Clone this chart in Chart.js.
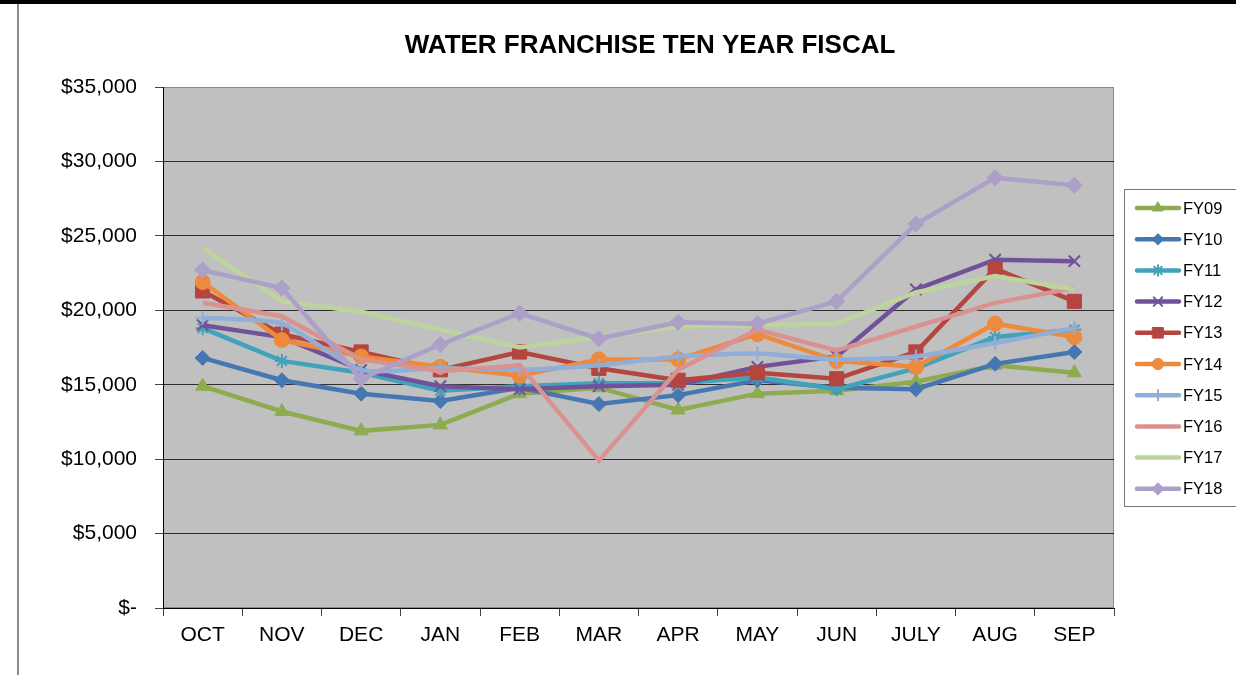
<!DOCTYPE html>
<html>
<head>
<meta charset="utf-8">
<title>Water Franchise Ten Year Fiscal</title>
<script src="https://cdn.jsdelivr.net/npm/chart.js@4.4.1/dist/chart.umd.min.js"></script>
<style>
    html, body { margin: 0; padding: 0; background: #fff; }
    #wrap { position: relative; width: 1236px; height: 675px; overflow: hidden; }
    #waterChart { position: absolute; left: 0; top: 0; }
    #topbar { position: absolute; left: 0; top: 0; width: 1236px; height: 4px; background: #000; }
    #leftline { position: absolute; left: 17px; top: 4px; width: 2px; height: 671px; background: #8a8a8a; }
</style>
</head>
<body>
<div id="wrap">
    <canvas id="waterChart" width="1236" height="675"></canvas>
    <div id="topbar"></div>
    <div id="leftline"></div>
</div>
<script>
// fiscal months, Oct -> Sep
const months = ['OCT', 'NOV', 'DEC', 'JAN', 'FEB', 'MAR', 'APR', 'MAY', 'JUN', 'JULY', 'AUG', 'SEP'];
const yTicks = [0, 5000, 10000, 15000, 20000, 25000, 30000, 35000];

const fy09 = [14900, 13200, 11900, 12300, 14400, 14800, 13300, 14400, 14600, 15200, 16300, 15800];
const fy10 = [16800, 15300, 14400, 13900, 14800, 13700, 14300, 15300, 14800, 14700, 16400, 17200];
const fy11 = [18800, 16600, 15800, 14600, 14900, 15100, 15100, 15500, 14700, 16100, 18200, 18700];
const fy12 = [19000, 18200, 16000, 14900, 14700, 14900, 15000, 16200, 16900, 21400, 23400, 23300];
const fy13 = [21300, 18400, 17200, 16000, 17200, 16100, 15300, 15800, 15400, 17200, 22800, 20600];
const fy14 = [21900, 18000, 16900, 16200, 15600, 16700, 16700, 18400, 16600, 16200, 19100, 18200];
const fy15 = [19500, 19100, 16000, 16100, 16000, 16300, 16900, 17100, 16700, 16900, 17800, 18800];
const fy16 = [20500, 19600, 16700, 15900, 16300, 9900, 16000, 18700, 17300, 18900, 20500, 21500];
const fy17 = [24200, 20600, 19900, 18700, 17500, 18200, 18900, 19000, 19100, 21200, 22300, 21400];
const fy18 = [22700, 21500, 15400, 17700, 19800, 18100, 19200, 19100, 20600, 25800, 28900, 28400];

const seriesNames = ['FY09', 'FY10', 'FY11', 'FY12', 'FY13', 'FY14', 'FY15', 'FY16', 'FY17', 'FY18'];
const seriesValues = [fy09, fy10, fy11, fy12, fy13, fy14, fy15, fy16, fy17, fy18];

// styling (Excel 2007 palette)
const colors = ['#8EAB50', '#4677B3', '#41A2BA', '#71529A', '#B4453F', '#EE8A3C', '#91AED8', '#D9928F', '#BDD59C', '#AC9FC8'];
const markers = ['triangle', 'rectRot', 'star', 'crossRot', 'rect', 'circle', 'cross', false, false, 'rectRot'];
const markerSize = [8, 7.5, 7, 8, 10, 7.5, 7, 0, 0, 8];

const FONT = '"Liberation Sans", Arial, sans-serif';

const datasets = seriesNames.map((name, i) => {
    const stroked = ['star', 'crossRot', 'cross'].includes(markers[i]);
    return {
        label: name,
        data: seriesValues[i],
        borderColor: colors[i],
        backgroundColor: colors[i],
        borderWidth: 4.5,
        pointStyle: markers[i] || 'circle',
        pointRadius: markerSize[i],
        pointHoverRadius: markerSize[i],
        pointBackgroundColor: colors[i],
        pointBorderColor: colors[i],
        pointBorderWidth: stroked ? 2 : 1,
        tension: name === 'FY15' ? 0.2 : 0,
        order: seriesNames.length - i
    };
});

const frame = {
    id: 'frame',
    beforeDraw(chart) {
        const { ctx, chartArea: a } = chart;
        ctx.save();
        ctx.fillStyle = '#C0C0C0';
        ctx.fillRect(a.left, a.top, a.right - a.left, a.bottom - a.top);
        ctx.strokeStyle = '#8a8a8a';
        ctx.lineWidth = 1;
        ctx.strokeRect(a.left + 0.5, a.top + 0.5, a.right - a.left - 1, a.bottom - a.top - 1);
        ctx.restore();
    },
    afterDraw(chart) {
        const ctx = chart.ctx;
        ctx.save();
        // title
        ctx.fillStyle = '#000';
        ctx.font = 'bold 26px ' + FONT;
        ctx.textAlign = 'center';
        ctx.textBaseline = 'middle';
        ctx.fillText('WATER FRANCHISE TEN YEAR FISCAL', 650, 46);

        // legend box
        ctx.fillStyle = '#fff';
        ctx.fillRect(1124, 189, 120, 317);
        ctx.strokeStyle = '#777';
        ctx.lineWidth = 1;
        ctx.strokeRect(1124.5, 189.5, 120, 317);

        chart.data.datasets.forEach((ds, i) => {
            const y = 208 + i * 31.2;
            ctx.strokeStyle = ds.borderColor;
            ctx.lineWidth = 4.5;
            ctx.lineCap = 'round';
            ctx.beginPath();
            ctx.moveTo(1137, y);
            ctx.lineTo(1179, y);
            ctx.stroke();
            if (ds.pointRadius > 0) {
                ctx.fillStyle = ds.pointBackgroundColor;
                ctx.strokeStyle = ds.pointBorderColor;
                ctx.lineWidth = ds.pointBorderWidth;
                Chart.helpers.drawPoint(ctx, {
                    pointStyle: ds.pointStyle,
                    radius: ds.pointRadius * 0.75,
                    rotation: 0,
                    borderWidth: ds.pointBorderWidth
                }, 1158, y);
            }
            ctx.fillStyle = '#000';
            ctx.font = '16.5px ' + FONT;
            ctx.textAlign = 'left';
            ctx.textBaseline = 'middle';
            ctx.fillText(ds.label, 1183, y + 1);
        });
        ctx.restore();
    }
};

new Chart(document.getElementById('waterChart').getContext('2d'), {
    type: 'line',
    data: { labels: months, datasets: datasets },
    options: {
        responsive: false,
        animation: false,
        devicePixelRatio: 1,
        layout: { padding: { top: 87, right: 122, bottom: 0, left: 0 } },
        plugins: {
            legend: { display: false },
            title: { display: false },
            tooltip: { enabled: false }
        },
        scales: {
            x: {
                offset: true,
                grid: { offset: true, drawOnChartArea: false, tickLength: 8, color: '#444', lineWidth: 1 },
                border: { color: '#000', width: 1 },
                ticks: { color: '#000', font: { family: FONT, size: 21 }, padding: 7, maxRotation: 0, autoSkip: false },
                afterFit(s) { s.height = 67; }
            },
            y: {
                min: yTicks[0],
                max: yTicks[yTicks.length - 1],
                afterBuildTicks(s) { s.ticks = yTicks.map(v => ({ value: v })); },
                grid: {
                    color: c => (c.tick && c.tick.value === 35000) ? '#8a8a8a' : '#2e2e2e',
                    lineWidth: 1,
                    tickLength: 8,
                    tickColor: '#444'
                },
                border: { color: '#000', width: 1 },
                ticks: {
                    color: '#000',
                    font: { family: FONT, size: 21 },
                    padding: 18,
                    callback: v => v === 0 ? '$-' : '$' + v.toLocaleString('en-US')
                },
                afterFit(s) { s.width = 163; }
            }
        }
    },
    plugins: [frame]
});
</script>
</body>
</html>
